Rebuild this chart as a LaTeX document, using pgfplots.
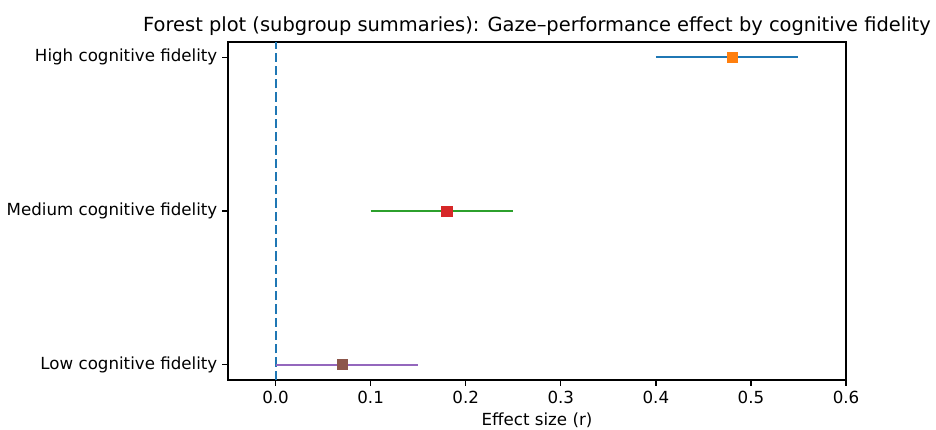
\documentclass[border=0pt]{standalone}
\usepackage{fontspec}
\setmainfont{DejaVu Sans}
\usepackage{pgfplots}
\pgfplotsset{compat=1.18}

\definecolor{tabblue}{HTML}{1F77B4}
\definecolor{taborange}{HTML}{FF7F0E}
\definecolor{tabgreen}{HTML}{2CA02C}
\definecolor{tabred}{HTML}{D62728}
\definecolor{tabpurple}{HTML}{9467BD}
\definecolor{tabbrown}{HTML}{8C564B}

\begin{document}
\begin{tikzpicture}
\begin{axis}[
    name=ax,
    scale only axis,
    width=445pt,
    height=243.4pt,
    xmin=-0.05, xmax=0.6,
    ymin=-0.1, ymax=2.1,
    xtick={0,0.1,0.2,0.3,0.4,0.5,0.6},
    ytick={0,1,2},
    yticklabels={Low cognitive fidelity,Medium cognitive fidelity,High cognitive fidelity},
    /pgf/number format/assume math mode=true,
    xticklabel style={/pgf/number format/.cd,fixed,fixed zerofill,precision=1},
    tick label style={font=\fontsize{12}{14}\selectfont},
    tick align=outside,
    tick pos=left,
    major tick length=4.2pt,
    axis line style={line width=0.96pt},
    every tick/.style={black,line width=0.96pt},
    xlabel={Effect size (r)},
    xlabel style={font=\fontsize{12}{14}\selectfont, yshift=0pt},
    title={Forest plot (subgroup summaries): Gaze–performance effect by cognitive fidelity},
    title style={font=\fontsize{14}{16}\selectfont, yshift=-5pt},
    clip=false,
]
% reference line at zero
\addplot[tabblue, line width=1.5pt, dash pattern=on 6.66pt off 2.88pt] coordinates {(0,-0.1) (0,2.1)};
% confidence intervals
\addplot[tabblue, line width=1.5pt] coordinates {(0.40,2) (0.55,2)};
\addplot[tabgreen, line width=1.5pt] coordinates {(0.10,1) (0.25,1)};
\addplot[tabpurple, line width=1.5pt] coordinates {(0.00,0) (0.15,0)};
% point estimates
\addplot[only marks, mark=square*, mark size=3.7pt, taborange] coordinates {(0.48,2)};
\addplot[only marks, mark=square*, mark size=3.7pt, tabred] coordinates {(0.18,1)};
\addplot[only marks, mark=square*, mark size=3.7pt, tabbrown] coordinates {(0.07,0)};
\end{axis}
\pgfresetboundingbox
\path ([xshift=-164.2pt,yshift=-36pt]ax.south west) rectangle ([xshift=64.8pt,yshift=30.2pt]ax.north east);
\end{tikzpicture}
\end{document}
